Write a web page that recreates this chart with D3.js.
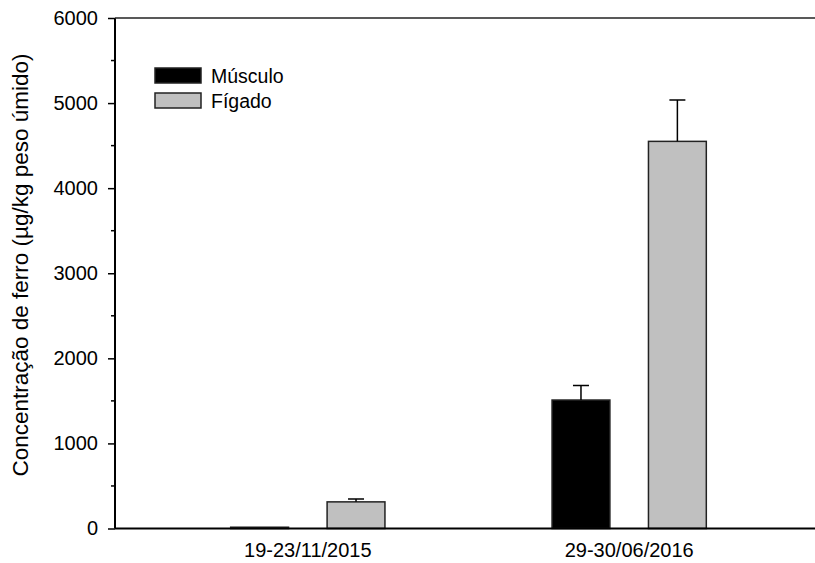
<!DOCTYPE html>
<html>
<head>
<meta charset="utf-8">
<script src="https://cdn.jsdelivr.net/npm/d3@7"></script>
<style>
  body { margin: 0; background: #fff; }
  svg text { font-family: "Liberation Sans", Arial, sans-serif; fill: #000; }
</style>
</head>
<body>
<svg width="815" height="563"></svg>
<script>
const periods = ['19-23/11/2015', '29-30/06/2016'];
const tissues = ['Músculo', 'Fígado'];
const musculo = [15, 1510];
const figado = [313, 4550];
const musculoErr = [5, 172];
const figadoErr = [35, 485];
const yTicks = [0, 1000, 2000, 3000, 4000, 5000, 6000];

const svg = d3.select('svg');
const margin = { top: 18, left: 115 };
const plotRight = 822; // axis runs past the picture edge
const plotBottom = 528.5;
const chartWidth = plotRight - margin.left;
const chartHeight = plotBottom - margin.top;

const colors = { 'Músculo': '#000000', 'Fígado': '#c0c0c0' };

const data = periods.map((p, i) => ({
  period: p,
  values: [
    { tissue: 'Músculo', v: musculo[i], e: musculoErr[i] },
    { tissue: 'Fígado', v: figado[i], e: figadoErr[i] }
  ]
}));

const g = svg.append('g').attr('transform', `translate(${margin.left},${margin.top})`);

const x0 = d3.scaleBand().domain(periods).range([0, chartWidth])
  .paddingInner(0.4).paddingOuter(0.3);
const x1 = d3.scaleBand().domain(tissues).range([0, x0.bandwidth()])
  .paddingInner(0.4).paddingOuter(0.2);
const y = d3.scaleLinear().domain([0, 6000]).range([chartHeight, 0]);

// bars
const groups = g.selectAll('.grp').data(data).enter().append('g')
  .attr('transform', d => `translate(${x0(d.period)},0)`);

groups.selectAll('rect').data(d => d.values).enter().append('rect')
  .attr('x', d => x1(d.tissue))
  .attr('y', d => y(d.v))
  .attr('width', x1.bandwidth())
  .attr('height', d => chartHeight - y(d.v))
  .attr('fill', d => colors[d.tissue])
  .attr('stroke', '#222')
  .attr('stroke-width', 1.5);

// error bars (upper only)
groups.selectAll('.err').data(d => d.values.filter(v => v.e > 10)).enter().append('path')
  .attr('class', 'err')
  .attr('fill', 'none')
  .attr('stroke', '#000')
  .attr('stroke-width', 1.5)
  .attr('d', d => {
    const cx = x1(d.tissue) + x1.bandwidth() / 2;
    return `M${cx},${y(d.v)}V${y(d.v + d.e)}M${cx - 8},${y(d.v + d.e)}H${cx + 8}`;
  });

// y axis
const yAxis = g.append('g')
  .call(d3.axisLeft(y).tickValues(yTicks).tickSize(7).tickPadding(10).tickFormat(d3.format('d')));
yAxis.select('.domain').remove();
yAxis.selectAll('text').attr('font-size', 20);
yAxis.selectAll('line').attr('stroke', '#000').attr('stroke-width', 1.5);

// minor ticks
g.append('g').selectAll('line').data(d3.range(500, 6000, 1000)).enter().append('line')
  .attr('x1', -4).attr('x2', 0)
  .attr('y1', d => y(d)).attr('y2', d => y(d))
  .attr('stroke', '#000').attr('stroke-width', 1.5);

// frame lines: left, bottom, top
g.append('line').attr('x1', 0).attr('x2', 0).attr('y1', 0).attr('y2', chartHeight)
  .attr('stroke', '#000').attr('stroke-width', 2);
g.append('line').attr('x1', 0).attr('x2', chartWidth).attr('y1', chartHeight).attr('y2', chartHeight)
  .attr('stroke', '#000').attr('stroke-width', 2);
g.append('line').attr('x1', 0).attr('x2', chartWidth).attr('y1', 0).attr('y2', 0)
  .attr('stroke', '#222').attr('stroke-width', 1.5);

// x labels (no ticks)
g.append('g').selectAll('text').data(periods).enter().append('text')
  .attr('x', d => x0(d) + x0.bandwidth() / 2)
  .attr('y', chartHeight + 28)
  .attr('text-anchor', 'middle')
  .attr('font-size', 20)
  .text(d => d);

// y title
svg.append('text')
  .attr('transform', 'translate(28,265) rotate(-90)')
  .attr('text-anchor', 'middle')
  .attr('font-size', 22.5)
  .text('Concentração de ferro (µg/kg peso úmido)');

// legend
const legend = svg.append('g').attr('transform', 'translate(155,68)');
const items = legend.selectAll('g').data(tissues).enter().append('g')
  .attr('transform', (d, i) => `translate(0,${i * 25})`);
items.append('rect')
  .attr('width', 46).attr('height', 15)
  .attr('fill', d => colors[d])
  .attr('stroke', '#222').attr('stroke-width', 1.5);
items.append('text')
  .attr('x', 56).attr('y', 14.5)
  .attr('font-size', 19.5)
  .text(d => d);
</script>
</body>
</html>
